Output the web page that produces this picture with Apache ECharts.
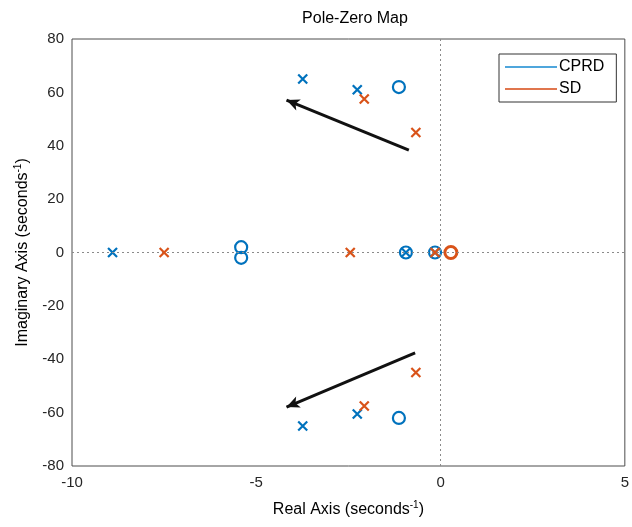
<!DOCTYPE html>
<html><head><meta charset="utf-8">
<script src="https://cdn.jsdelivr.net/npm/echarts@6/dist/echarts.min.js"></script>
<style>html,body{margin:0;padding:0;background:#fff}#c{width:632px;height:527px}</style>
</head><body><div id="c"></div>
<script>
// CPRD
const cprdPoles = [[-8.9, 0], [-3.74, 65], [-3.74, -65], [-2.26, 61], [-2.26, -60.5], [-0.94, 0], [-0.15, 0]];
const cprdZeros = [[-5.41, 2], [-5.41, -2], [-1.13, 62], [-1.13, -62], [-0.94, 0], [-0.15, 0]];
// SD
const sdPoles = [[-7.5, 0], [-2.45, 0], [-2.07, 57.5], [-2.07, -57.5], [-0.67, 45], [-0.67, -45], [-0.15, 0]];
const sdZeros = [[0.28, 0]];
// arrows [from, to]
const arrows = [[[-0.86, 38.4], [-4.18, 57.1]], [[-0.69, -37.6], [-4.18, -57.9]]];
const xTicks = [-10, -5, 0, 5];
const yTicks = [-80, -60, -40, -20, 0, 20, 40, 60, 80];

const BLUE = '#0072BD', RED = '#D95319';
const XSYM = 'path://M0,0L10,10M10,0L0,10';
const font = 'Liberation Sans, Arial, sans-serif';

const chart = echarts.init(document.getElementById('c'));
chart.setOption({
  animation: false,
  title: { text: 'Pole-Zero Map', left: 350, textAlign: 'center', top: 6,
    textStyle: { fontFamily: font, fontSize: 16, fontWeight: 'normal', color: '#000' } },
  grid: { left: 72, top: 39, right: 5, bottom: 61, show: true, borderColor: '#4d4d4d', borderWidth: 1 },
  legend: {
    orient: 'vertical', left: 499, top: 54, width: 117,
    padding: [5, 12, 5, 6], itemGap: 6, itemWidth: 52, itemHeight: 2,
    borderColor: '#333', borderWidth: 1, backgroundColor: '#fff',
    textStyle: { fontFamily: font, fontSize: 16, color: '#000', padding: [0, 0, 0, -3] },
    data: [{ name: 'CPRD', icon: 'rect' }, { name: 'SD', icon: 'rect' }]
  },
  xAxis: {
    type: 'value', min: -10, max: 5, interval: 5,
    name: 'Real Axis (seconds{sup|-1})', nameLocation: 'middle', nameGap: 34,
    nameTextStyle: { fontFamily: font, fontSize: 16, color: '#000',
      rich: { sup: { fontFamily: font, fontSize: 10, color: '#000', padding: [0, 0, 10, 0] } } },
    axisLine: { show: false }, axisTick: { show: false }, splitLine: { show: false },
    axisLabel: { fontFamily: font, fontSize: 15, color: '#262626', margin: 9,
      formatter: v => xTicks.includes(v) ? String(v) : '' }
  },
  yAxis: {
    type: 'value', min: -80, max: 80, interval: 20,
    name: 'Imaginary Axis (seconds{sup|-1})', nameLocation: 'middle', nameGap: 39, nameRotate: 90,
    nameTextStyle: { fontFamily: font, fontSize: 16, color: '#000',
      rich: { sup: { fontFamily: font, fontSize: 10, color: '#000', padding: [0, 0, 10, 0] } } },
    axisLine: { show: false }, axisTick: { show: false }, splitLine: { show: false },
    axisLabel: { fontFamily: font, fontSize: 15, color: '#262626', margin: 8,
      formatter: v => yTicks.includes(v) ? String(v) : '' }
  },
  series: [
    { type: 'line', name: 'CPRD', data: [], color: '#4fa6dc', lineStyle: { color: '#4fa6dc' }, itemStyle: { color: '#4fa6dc' },
      markLine: { silent: true, symbol: ['none', 'none'], label: { show: false },
        lineStyle: { type: [2, 3], color: '#8a8a8a', width: 1 },
        data: [{ xAxis: 0 }, { yAxis: 0 }] } },
    { type: 'line', name: 'SD', data: [], color: '#e0764e', lineStyle: { color: '#e0764e' }, itemStyle: { color: '#e0764e' },
      markLine: { silent: true, symbol: ['none', 'arrow'], symbolSize: [9, 13], label: { show: false },
        lineStyle: { type: 'solid', color: '#111', width: 3 },
        data: arrows.map(a => [{ coord: a[0] }, { coord: a[1] }]) } },
    { type: 'scatter', name: 'CPRD zeros', data: cprdZeros, symbol: 'circle', symbolSize: 12,
      itemStyle: { color: 'rgba(0,0,0,0)', borderColor: BLUE, borderWidth: 2.2, opacity: 1 }, z: 3 },
    { type: 'scatter', name: 'SD zeros', data: sdZeros, symbol: 'circle', symbolSize: 12,
      itemStyle: { color: 'rgba(0,0,0,0)', borderColor: RED, borderWidth: 3, opacity: 1 }, z: 3 },
    { type: 'scatter', name: 'CPRD poles', data: cprdPoles, symbol: XSYM, symbolSize: 9,
      itemStyle: { color: 'none', borderColor: BLUE, borderWidth: 2.2, opacity: 1 }, z: 4 },
    { type: 'scatter', name: 'SD poles', data: sdPoles, symbol: XSYM, symbolSize: 9,
      itemStyle: { color: 'none', borderColor: RED, borderWidth: 2.2, opacity: 1 }, z: 5 }
  ]
});
</script></body></html>
